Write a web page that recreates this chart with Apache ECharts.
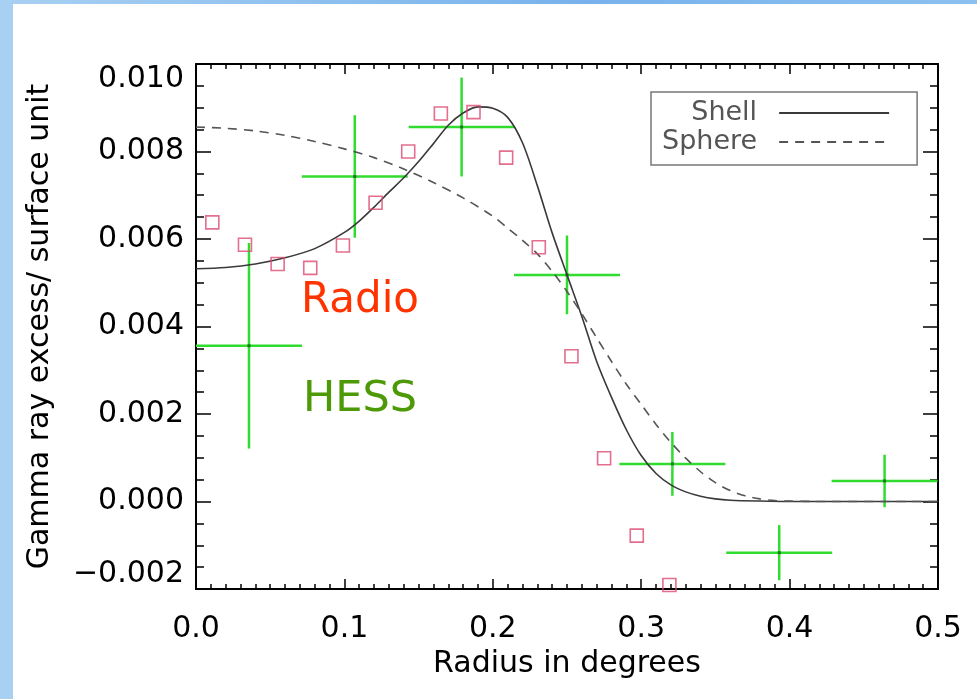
<!DOCTYPE html>
<html>
<head>
<meta charset="utf-8">
<script src="https://cdn.jsdelivr.net/npm/echarts@6/dist/echarts.min.js"></script>
<style>
  html, body { margin: 0; padding: 0; background: #fff; }
  #chart { width: 977px; height: 699px; }
</style>
</head>
<body>
<div id="chart"></div>
<script>
// --- data ---
const radioX = [0.011, 0.033, 0.055, 0.077, 0.099, 0.121, 0.143, 0.165, 0.187, 0.209, 0.231, 0.253, 0.275, 0.297, 0.319];
const radioY = [0.00638, 0.00587, 0.00543, 0.00534, 0.00585, 0.00683, 0.00800, 0.00887, 0.00890, 0.00786, 0.00581, 0.00332, 0.00099, -0.00078, -0.00191];

const hessX    = [0.0357, 0.107, 0.179, 0.250, 0.321, 0.393, 0.464];
const hessY    = [0.00356, 0.00743, 0.00856, 0.00518, 0.00086, -0.00117, 0.00047];
const hessXErr = [0.0357, 0.0357, 0.0357, 0.0357, 0.0357, 0.0357, 0.0357];
const hessYErr = [0.00235, 0.00140, 0.00113, 0.00090, 0.00073, 0.00063, 0.00060];

const shellX = [0.00, 0.02, 0.04, 0.06, 0.08, 0.10, 0.11, 0.12, 0.13, 0.14, 0.15, 0.16, 0.17, 0.18, 0.19, 0.20, 0.21, 0.22, 0.23, 0.24, 0.25, 0.26, 0.27, 0.28, 0.29, 0.30, 0.31, 0.32, 0.33, 0.34, 0.35, 0.36, 0.38, 0.40, 0.50];
const shellY = [0.00532, 0.00535, 0.00543, 0.00557, 0.00578, 0.00615, 0.00641, 0.00673, 0.00707, 0.00740, 0.00777, 0.00818, 0.00860, 0.00888, 0.00902, 0.00899, 0.00878, 0.00820, 0.00722, 0.00614, 0.00518, 0.00423, 0.00320, 0.00238, 0.00164, 0.00105, 0.00064, 0.00038, 0.00022, 0.00012, 0.00006, 0.00003, 0.00001, 0.0, 0.0];

const sphereX = [0.00, 0.02, 0.04, 0.06, 0.08, 0.10, 0.12, 0.14, 0.16, 0.18, 0.20, 0.21, 0.22, 0.23, 0.24, 0.25, 0.26, 0.27, 0.28, 0.29, 0.30, 0.31, 0.32, 0.33, 0.34, 0.35, 0.36, 0.37, 0.38, 0.39, 0.40, 0.42, 0.50];
const sphereY = [0.00856, 0.00853, 0.00847, 0.00837, 0.00823, 0.00806, 0.00786, 0.00760, 0.00729, 0.00694, 0.00652, 0.00625, 0.00597, 0.00566, 0.00526, 0.00480, 0.00429, 0.00374, 0.00320, 0.00268, 0.00222, 0.00176, 0.00135, 0.00099, 0.00068, 0.00043, 0.00025, 0.00013, 0.00006, 0.00002, 0.00001, 0.0, 0.0];

const xTickLabels = ['0.0', '0.1', '0.2', '0.3', '0.4', '0.5'];

const FONT = 'DejaVu Sans';

function zip(a, b) { return a.map((v, i) => [v, b[i]]); }

function yLabel(v) {
  const s = Math.abs(v).toFixed(3);
  return v < -1e-9 ? '\u2212' + s : s;
}

const chart = echarts.init(document.getElementById('chart'));

const axisLine = { onZero: false, lineStyle: { color: '#000', width: 2 } };
const tickStyle = { color: '#000', width: 1.5 };

chart.setOption({
  animation: false,
  grid: { left: 196, right: 39, top: 64, bottom: 110 },
  legend: {
    data: ['Shell', 'Sphere'],
    orient: 'vertical',
    align: 'right',
    left: 651,
    top: 92,
    itemWidth: 110,
    itemHeight: 14,
    itemGap: 1,
    padding: [7, 27, 9, 11],
    borderColor: '#777',
    borderWidth: 1.5,
    itemStyle: { color: 'rgba(0,0,0,0)', borderWidth: 0, opacity: 0 },
    textStyle: { fontFamily: FONT, fontSize: 27, color: '#555', lineHeight: 28, padding: [0, 17, 0, 0] }
  },
  xAxis: [
    {
      type: 'value', position: 'bottom', min: 0, max: 0.5, interval: 0.1,
      name: 'Radius in degrees', nameLocation: 'middle', nameGap: 60,
      nameTextStyle: { fontFamily: FONT, fontSize: 30, color: '#000' },
      axisLine,
      axisTick: { inside: true, length: 10, lineStyle: tickStyle },
      minorTick: { show: true, splitNumber: 10, length: 5, lineStyle: tickStyle },
      axisLabel: { fontFamily: FONT, fontSize: 30, color: '#000', margin: 25,
        formatter: v => xTickLabels[Math.round(v * 10)] },
      splitLine: { show: false }
    },
    {
      type: 'value', position: 'top', min: 0, max: 0.5, interval: 0.1,
      axisLine,
      axisTick: { inside: true, length: 10, lineStyle: tickStyle },
      minorTick: { show: true, splitNumber: 10, length: 5, lineStyle: tickStyle },
      axisLabel: { show: false },
      splitLine: { show: false }
    }
  ],
  yAxis: [
    {
      type: 'value', position: 'left', min: -0.002, max: 0.010, interval: 0.002,
      name: 'Gamma ray excess/ surface unit', nameLocation: 'middle', nameGap: 141,
      nameTextStyle: { fontFamily: FONT, fontSize: 30, color: '#000' },
      axisLine,
      axisTick: { inside: true, length: 15, lineStyle: tickStyle },
      minorTick: { show: true, splitNumber: 4, length: 8, lineStyle: tickStyle },
      axisLabel: { fontFamily: FONT, fontSize: 30, color: '#000', margin: 12,
        formatter: yLabel, verticalAlignMinLabel: 'bottom', verticalAlignMaxLabel: 'top' },
      splitLine: { show: false }
    },
    {
      type: 'value', position: 'right', min: -0.002, max: 0.010, interval: 0.002,
      axisLine,
      axisTick: { inside: true, length: 15, lineStyle: tickStyle },
      minorTick: { show: true, splitNumber: 4, length: 8, lineStyle: tickStyle },
      axisLabel: { show: false },
      splitLine: { show: false }
    }
  ],
  series: [
    {
      name: 'HESS',
      type: 'custom',
      clip: true,
      z: 2,
      data: hessX.map((x, i) => [x, hessY[i], hessXErr[i], hessYErr[i]]),
      renderItem(params, api) {
        const x = api.value(0), y = api.value(1), dx = api.value(2), dy = api.value(3);
        const l = api.coord([x - dx, y]), r = api.coord([x + dx, y]);
        const t = api.coord([x, y + dy]), b = api.coord([x, y - dy]);
        const c = api.coord([x, y]);
        const st = { stroke: '#2fdc2f', lineWidth: 2.5 };
        return {
          type: 'group',
          children: [
            { type: 'line', shape: { x1: l[0], y1: l[1], x2: r[0], y2: r[1] }, style: st },
            { type: 'line', shape: { x1: t[0], y1: t[1], x2: b[0], y2: b[1] }, style: st },
            { type: 'rect', shape: { x: c[0] - 1.5, y: c[1] - 1.5, width: 3, height: 3 }, style: { fill: '#137a13' } }
          ]
        };
      }
    },
    {
      name: 'Shell',
      type: 'line',
      data: zip(shellX, shellY),
      smooth: 0.3,
      symbol: 'none',
      z: 3,
      itemStyle: { color: '#3a3a3a' },
      lineStyle: { color: '#3a3a3a', width: 1.6 }
    },
    {
      name: 'Sphere',
      type: 'line',
      data: zip(sphereX, sphereY),
      smooth: 0.3,
      symbol: 'none',
      z: 3,
      itemStyle: { color: '#555' },
      lineStyle: { color: '#555', width: 1.6, type: [9, 7] }
    },
    {
      name: 'Radio',
      type: 'scatter',
      data: zip(radioX, radioY),
      symbol: 'rect',
      symbolSize: 13,
      z: 4,
      itemStyle: { color: 'rgba(0,0,0,0)', borderColor: '#dc4a70', borderWidth: 1.6 }
    }
  ],
  graphic: [
    { type: 'rect', left: 0, top: 0, shape: { width: 13, height: 699 }, style: { fill: '#a8d0f2' }, silent: true },
    { type: 'rect', left: 0, top: 0, shape: { width: 977, height: 4 }, silent: true,
      style: { fill: new echarts.graphic.LinearGradient(0, 0, 1, 0, [
        { offset: 0, color: '#a8d0f2' }, { offset: 0.6, color: '#78b2ec' }, { offset: 1, color: '#8cc0f0' }]) } },
    { type: 'text', x: 301, y: 301, silent: true,
      style: { text: 'Radio', fill: '#ff3300', font: '42px "DejaVu Sans"', verticalAlign: 'middle' } },
    { type: 'text', x: 303, y: 400, silent: true,
      style: { text: 'HESS', fill: '#4e9a06', font: '43px "DejaVu Sans"', verticalAlign: 'middle' } }
  ]
});
</script>
</body>
</html>
